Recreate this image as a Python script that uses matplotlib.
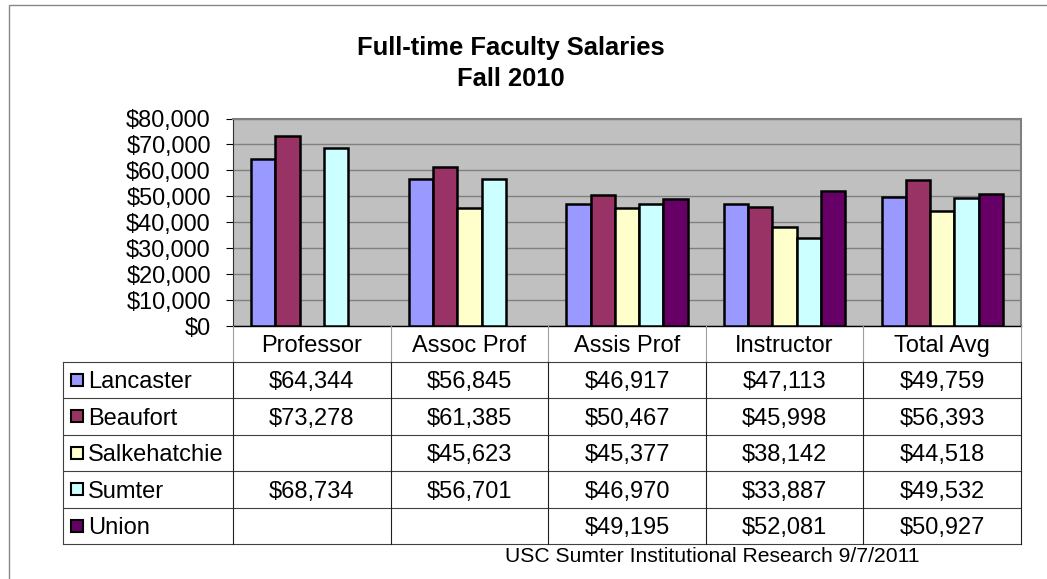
import numpy as np
import matplotlib
matplotlib.use("Agg")
import matplotlib.pyplot as plt
from matplotlib.transforms import Affine2D, blended_transform_factory
from matplotlib.patches import Rectangle
from matplotlib.lines import Line2D

# ---------------- data ----------------
categories = ["Professor", "Assoc Prof", "Assis Prof", "Instructor", "Total Avg"]
campuses = ["Lancaster", "Beaufort", "Salkehatchie", "Sumter", "Union"]
lancaster = [64344, 56845, 46917, 47113, 49759]
beaufort = [73278, 61385, 50467, 45998, 56393]
salkehatchie = [None, 45623, 45377, 38142, 44518]
sumter = [68734, 56701, 46970, 33887, 49532]
union = [None, None, 49195, 52081, 50927]
series = [lancaster, beaufort, salkehatchie, sumter, union]
colors = ["#9999FF", "#993366", "#FFFFCC", "#CCFFFF", "#660066"]
yticks = [0, 10000, 20000, 30000, 40000, 50000, 60000, 70000, 80000]
title_lines = ["Full-time Faculty Salaries", "Fall 2010"]
footer = "USC Sumter Institutional Research 9/7/2011"

# ---------------- layout ----------------
W, H = 1047, 579
plt.rcParams["font.family"] = ["Liberation Sans", "DejaVu Sans"]
fig = plt.figure(figsize=(W / 100, H / 100), dpi=100)
fig.patch.set_facecolor("white")

# pixel transform (origin top-left)
pix = Affine2D().scale(1 / W, -1 / H).translate(0, 1) + fig.transFigure

PL, PR, PT, PB = 233, 1021, 118.5, 326.3
ax = fig.add_axes([PL / W, 1 - PB / H, (PR - PL) / W, (PB - PT) / H])
ax.set_facecolor("#C0C0C0")
ax.set_xlim(-0.5, len(categories) - 0.5)
ax.set_ylim(0, 80000)

n = len(series)
bw = 1.0 / (n + 1.5)
x = np.arange(len(categories))
for i, (vals, col) in enumerate(zip(series, colors)):
    xs = [xi + (i - (n - 1) / 2) * bw for xi, v in zip(x, vals) if v is not None]
    hs = [v for v in vals if v is not None]
    ax.bar(xs, hs, width=bw, color=col, edgecolor="black", linewidth=1.8, zorder=3)

ax.set_yticks(yticks)
ax.set_yticklabels(["${:,}".format(t) for t in yticks], fontsize=16.9)
ax.yaxis.grid(True, color="#808080", linewidth=1.0, zorder=1)
ax.set_axisbelow(True)
ax.tick_params(axis="y", direction="out", length=5, width=0.8, color="black", pad=11)
ax.set_xticks([])
for s in ["top", "right"]:
    ax.spines[s].set_color("#808080")
    ax.spines[s].set_linewidth(1.5)
ax.spines["left"].set_color("#303030")
ax.spines["left"].set_linewidth(0.8)
ax.spines["bottom"].set_color("black")
ax.spines["bottom"].set_linewidth(1.0)

# ---------------- data table ----------------
blend = blended_transform_factory(ax.transData, pix)
TL = 63.3
hdr_top, hdr_bot = PB, 361.7
row_h = 36.5
fs = 17
base_off = 8.3

# header row
for b in np.arange(-0.5, len(categories), 1.0):
    fig.add_artist(Line2D([b, b], [hdr_top, hdr_bot], transform=blend,
                          color="#A0A0A0", linewidth=0.8))
for xi, c in zip(x, categories):
    fig.text(xi, (hdr_top + hdr_bot) / 2 + base_off, c, transform=blend,
             ha="center", va="baseline", fontsize=fs)

# body rows
nrows = len(campuses)
tbl_bot = hdr_bot + nrows * row_h
for r in range(nrows + 1):
    yy = hdr_bot + r * row_h
    fig.add_artist(Line2D([TL, PR], [yy, yy], transform=pix,
                          color="#404040", linewidth=0.8))
fig.add_artist(Line2D([TL, TL], [hdr_bot, tbl_bot], transform=pix,
                      color="#404040", linewidth=0.8))
for b in np.arange(-0.5, len(categories), 1.0):
    fig.add_artist(Line2D([b, b], [hdr_bot, tbl_bot], transform=blend,
                          color="#202020", linewidth=0.8))

for r, (name, vals, col) in enumerate(zip(campuses, series, colors)):
    yc = hdr_bot + (r + 0.5) * row_h
    fig.add_artist(Rectangle((70.5, yc - 6), 12, 12, transform=pix,
                             facecolor=col, edgecolor="black", linewidth=1.5))
    fig.text(88.3, yc + base_off, name, transform=pix, ha="left",
             va="baseline", fontsize=fs)
    for xi, v in zip(x, vals):
        if v is not None:
            fig.text(xi, yc + base_off, "${:,}".format(v), transform=blend,
                     ha="center", va="baseline", fontsize=fs)

# ---------------- titles / frame ----------------
fig.text(511, 55, title_lines[0], transform=pix, ha="center", va="baseline",
         fontsize=18.4, fontweight="bold")
fig.text(511, 86, title_lines[1], transform=pix, ha="center", va="baseline",
         fontsize=18.4, fontweight="bold")
fig.text(505, 561.5, footer, transform=pix, ha="left", va="baseline",
         fontsize=15.2)

fig.add_artist(Line2D([9, 9, W + 5], [H + 5, 5, 5], transform=pix,
                      color="#888888", linewidth=1.0))

fig.savefig("out.png", dpi=100, facecolor="white")
